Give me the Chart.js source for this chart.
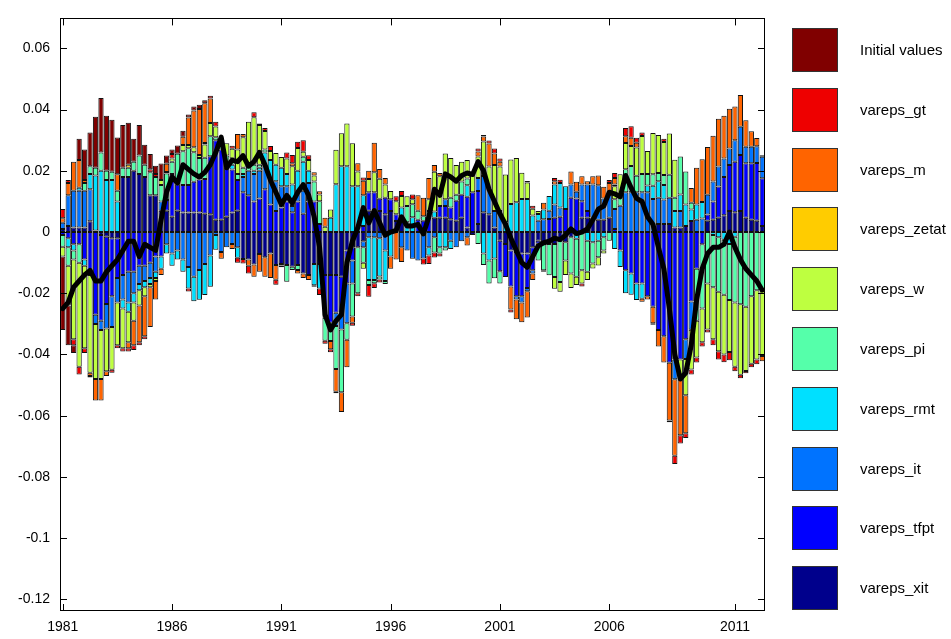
<!DOCTYPE html>
<html lang="en">
<head>
<meta charset="UTF-8">
<title>Shock decomposition</title>
<style>
  body { margin: 0; background: #fff; }
  #wrap { position: relative; width: 951px; height: 639px; }
  #chart { position: absolute; left: 0; top: 0; }
  .legend { position: absolute; left: 792px; top: 28px; font: 15px 'Liberation Sans', Arial, sans-serif; color: #000; }
  .item { position: absolute; left: 0; width: 159px; height: 43px; }
  .box { position: absolute; left: 0; top: 0; width: 44px; height: 42px; border: 1px solid #333; }
  .lbl { position: absolute; left: 68px; top: 0; line-height: 43px; white-space: nowrap; }
</style>
<script src="https://cdn.jsdelivr.net/npm/chart.js"></script>
</head>
<body>
<div id="wrap">
  <canvas id="chart" width="951" height="639"></canvas>
  <div class="legend" id="legend"></div>
</div>
<script>
// contributions, in units of 0.001, one value per quarter from 1981Q1
const initialValues = [
  -24, -13, -2.5, 7, 10, 11, 16.7, 17.8, 18, 17,
  12, 14, 13.7, 7.5, 10, 6.5, 5, 2.7, 5.4, 2.7,
  1.5, 2.7, 2, 1, 1.3, 1.4, 1, 0, 0, 0,
  0, 0, 0, 0, 0, 0, 0, 0, 0, 0,
  0, 0, 0, 0, 0, 0, 0, 0, 0, 0,
  0, 0, 0, 0, 0, 0, 0, 0, 0, 0,
  0, 0, 0, 0, 0, 0, 0, 0, 0, 0,
  0, 0, 0, 0, 0, 0, 0, 0, 0, 0,
  0, 0, 0, 0, 0, 0, 0, 0, 0, 0,
  0, 0, 0, 0, 0, 0, 0, 0, 0, 0,
  0, 0, 0, 0, 0, 0, 0, 0, 0, 0,
  0, 0, 0, 0, 0, 0, 0, 0, 0, 0,
  0, 0, 0, 0, 0, 0, 0, 0, 0
];
const varepsGt = [
  3, 1, -2, -2.5, -1.5, -0.5, 0, 0, 0, -1,
  -1, -1, -1, -1.5, -1, -1, 1, 1, 0, 0,
  1.5, 0, 0, -1, 0, 0, 0, 0.9, 1.5, 1,
  0, 1, -1.6, -1.5, -2.5, 1.6, 0.5, 1, 1.6, -1.6,
  -0.6, 2, 2.7, 2, 3.8, 1.6, -0.5, -2.2, -1, -1,
  -0.5, 0, 0, -1, -1, 1, -3.8, -1.6, -1, 0,
  0, 1.6, 1.6, 0, 1.6, 0, -2, -2.7, -1.6, -1,
  0, 0, 0, 0, 0, 0, 1, 0.5, 1, 1.6,
  1, 0, -1, 0, 0, 0.5, 1, 0, -0.5, 0,
  1.1, 1.1, 0, 0, 0, -1, 0, 0, 0, 0,
  1, 1.6, 0, 2.7, 3.8, 1.6, 1.1, 0, -0.5, 0,
  1.1, -0.5, -2.7, -2.7, -1.6, -1.6, -1.6, -1.4, -1, -2,
  -2.7, -2.5, -2.7, -1.5, -1.2, -0.7, -1.2, -1.6, 0.5
];
const varepsM = [
  1.5, 4, 9.5, 9, 1, -1, -7, -7, -1.5, 0,
  5.4, 0, -2, -8, -12, -13, -13, -6, -2, 2.7,
  0, 0, 2.7, 9, 12, 15, 13, 8, 0, -2.2,
  0, -1.6, 5, 1, -2, -4, -5.8, -6.4, -8, -4.8,
  0, 0, 1, -1.1, -1.5, -1.7, 1, 1, 3, -2.7,
  -7.5, -6.5, -9, -2, 2.7, 4.8, 2.7, 9.7, 3.2, 2.2,
  -4, -9, -4.8, 0, 0, 5, 6, 7, 2.2, 1.1,
  0, 0, 0, 0, -2.7, 0, 1.6, 1.6, 7.5, 3.8,
  1.6, 0, -7.5, -6.5, -6.5, -8.6, -2.2, 0, 2.2, 0,
  1.1, 0, 0, 4.3, 3.2, 2.7, 1.1, 2.7, 3.2, 3.8,
  3.8, 2.2, 0, 2.2, 2.7, 1.6, -1, -1, -5.4, -5.4,
  -8.6, -18.9, -25, -19.4, -12.4, 4.8, 12, 14, 15.6, 15,
  15.6, 14, 13, 11, 10.4, 8.6, 5, 2.7, -1.7
];
const varepsZetat = [
  0, 0, 0, 0, 0, 0, 0, 0, 0, 0,
  0, 0, 1, 0, 0, 0, 0, 0, 0, 0.5,
  0, 0, 0, 0, 0, 0, 0.5, 0, 0, 0,
  0, 0, 0, 0, 0, 0, 0, 0, 0, 0,
  0, 0, 0, 0, 0, 0, 0, 0, 0, 0,
  0, 0, 0, 0, 0, 0, 0, 0, 0, 0,
  0, 0, 0, 0, 0, 0, 0, 0, 0, 0,
  0, 0, 0, 0, 0, 0, 0, 0, 0, 0,
  0, 0, 0, 0, 0, 0, 0, 0, 0, 0,
  0, 0, 0, 0, 0, 0, 0, 0, 0, 0,
  0, 0.5, 0, 0, 0, 0, 0, 0, 0, 0,
  0, 0, 0, 0, 0, 0, 0, 0, 0, 0,
  0, 0, 0, 0, 0, 0, 0, 0, 0
];
const varepsW = [
  -3.2, -13, -26, -34, -27, -32, -18, -16, -14, -14,
  -14, -13, -10, -6, -5, -3, -1, -1, 1.6, 0,
  1, 0, 2, 1, 1.6, 1, 4.3, 4.3, 3.5, 1,
  4, 3.2, 8, 10, 14, 15.5, 13, 6, 3, 3.8,
  3.5, 5, 6, 7.5, 1.6, 3.5, 2, 2.2, 1.7, 2.7,
  11.3, 10.8, 14, 14, 4.8, -2, 4.3, 6.5, 6.5, 4.3,
  2.7, 4.3, 3.8, 3.2, 1.6, 0, 0, 3.8, 13, 9.7,
  15, 13, 9.7, 6.5, 6, 6.5, 7, 11.3, 7, 15,
  14.5, 15.6, 14.5, 14.5, 8.6, 5.4, 2.2, 1, 0, 0,
  -3.8, -3.2, -4.7, -4.8, -2.7, -4.3, -2.7, -1.6, -2.7, -1,
  0, 4.3, 6.5, 8.6, 6.5, 9.2, 12.4, 7.5, 13.5, 12.4,
  10.8, 13.5, 12.4, -5.4, -11.8, -13, -12, -11, -15, -17,
  -19.4, -19.5, -17, -21, -23, -21, -22, -22.6, -21.5
];
const varepsPi = [
  -3.8, -6, -3, -6, 2.5, 2.5, 2.5, 6, 3, 2.7,
  3.5, 3, 3, 3, 6, 4, 7.5, 6, 5.4, 8.6,
  4, 10, 11, 12, 9.7, 7, 7, 6.5, 1, 1,
  2, 2, 2, 2, 2, 2, 1, 1, 0, 0,
  -0.5, -5.4, -1.1, -1.6, 1.6, 0, 6.5, 7.5, -7.5, -6,
  -14, -20.5, -5.4, -10.8, -15, -5, -1.6, -1, -1, -1,
  0, 0, 0, 5.3, 4.3, 3, 1.5, 2.2, -5, -2,
  -1, 3.2, 2, 4.3, 2.2, 0, -3.9, -3.8, -7.5, -6.5,
  -4, 0, 0, 0, 0, 0, 0, -5.5, -8.6, -10.2,
  -10.8, -13.5, -6, -11.8, -12.4, -12.5, -10.2, -7, -5.4, -4.3,
  -2.8, 3.2, 3.8, 7.5, 8.6, 5.4, 6, 3.8, 3.8, 2.7,
  3.2, 7.5, 4.3, 12.4, 10.8, 2.2, -17, -21, -16.8, -17,
  -17.8, -18, -18.3, -21.5, -23.6, -24.4, -21, -19, -19
];
const varepsRmt = [
  0, -3, -2, 1, -2, 5, 18, 20, 17, 17,
  10, -3, -3, -3, -2, -2, -2, -2, -4, -3,
  -4, -3, -4, -7, -8, -9.7, -10.2, -10.2, -4.8, 0,
  2, 1.6, -3.4, 1, 0, 1, 1, 4, 6.5, 5.4,
  6, 4, 7, 7, 9.5, 4, -7, -8, 0, 4.7,
  15.6, 21.5, 21.5, 15, 15, 10, -14, -14, -12.5, -10,
  -8, 0, 3.2, 3.2, 4.8, 0, 0, -2.7, 2, -5,
  -5, -2.7, 0, 0, 3.8, 0, 0, -7, -9.3, -8.6,
  0, 3.2, 9.2, 9.7, 10.8, 10.8, 5.4, 2.2, 3.2, 4.8,
  6.5, 8, 7.5, 0, -2.2, 0, -2.8, -3.3, -2.8, -1.7,
  0, -5.5, -5.4, -7.5, -7, -5.4, -5, 2.2, 4.3, 5.4,
  4.8, 0, 5.4, 5.4, 7, 3.8, 5, 5.4, 0, -1,
  -1.7, -2.5, -3.9, -1.5, 0, 0, 0, 0, 0
];
const varepsIt = [
  2, 10, 12, 12, 12, 10.5, -3, -3, -8, -10,
  -8, -8, -10, -7, -6, -5, -5, -5, 3, -4,
  -7, -6, -9, -11.4, -14.6, -12.4, -10.4, -7.7, -1, -6.5,
  -5, -3.9, -5, 5, 8, 9, 9, 8, 8, 9.7,
  7, 5, 2, 3, 7.5, 6, 0, 0, 0, 0,
  -4.3, -5.4, -13, -7.5, 0, -2, -1.7, -1.7, -2, -6,
  0, 0, -5, -6, -8.7, -9.3, -8.6, -5, -1.7, 0,
  2.2, -2.8, -5, -3, -1.7, 0, 4.3, 11.8, 8.6, 5.4,
  6.9, 0, 0, -1, -2, -1, -1, 3.7, 4.2, 2.7,
  4.3, 3, 0, 4.3, 2.2, 5.4, 8.6, 10.8, 11.3, 7,
  7.5, 6.5, 8.6, 13, 13, 13, 13, 13, 10.8, 8.6,
  8, 8.6, -6.5, 5.4, -6.5, -9.2, 4, 4.4, 6.5, 6.5,
  6.5, 6, 5.4, 7, 9.2, 5.4, 5.4, 5.4, 7
];
const varepsTfpt = [
  -1, -2, -4, -4, -9, -14, -27, -28, -22, -19,
  -13, -14, -13, -13, -11, -11, -10, -8, -8, 3.5,
  14, 8.6, 9, 9, 10, 10.8, 11.3, 19, 26, 23,
  16, 14, 10, 13, 12, 10, 11, 14, 9, 6.9,
  8, 10, 6.5, 10, 6, 10, 10, 2.6, -14, -15.6,
  -12.4, -11.8, -10.8, -4.3, 0, 2, 6, 6, 4, 5.4,
  3.8, 2.2, 0, 0, 0, 4, 3.7, 4.7, 0, 3.8,
  3.8, 3.8, 6.5, 7.5, 10, 13, 10.8, 0, 0, 0,
  -10, -10.8, -11.8, -14.5, -14, -11.3, -7.5, -1, 0, 4.3,
  4.7, 5, 7.5, 11.2, 11, 5.4, 2.2, 0, 0, 0,
  0, 1, -6, -12.5, -13.5, -16.8, -16.8, -21, -24.4, -32,
  -34, -42.7, -41.6, -41.6, -35, -22.7, -12, -4, 2, 6,
  10.2, 12.5, 15, 16.5, 18.3, 17.8, 18.5, 18.9, 15.6
];
const varepsXit = [
  1, 2, 1.5, 1.5, 1.5, 3.5, 0.5, -1, -1.5, -2,
  -2, 18, 18, 20, 19, 18, 12, 12, 7, 7,
  5, 7, 6.4, 6.4, 6.4, 6.4, 6, 5.8, 4, 4,
  5, 6.4, 7, -8.8, -9, -10.6, -7.2, -8.2, -7, -10.8,
  -10.4, -10.8, -11.3, -10.8, -13.5, -14, -10.4, -10.4, -14, -14,
  -14, -14.6, -6, -5, -5, -3, 7, 7, 6.9, 5.8,
  6.9, 3.6, 4.8, 0, 0, 0, 0, 0, 4.7, 4.7,
  4.7, 4.2, 3.7, 4.7, 1.5, -1, 2.6, 6.5, 5.8, 1.5,
  -2.8, -3.9, -6, -6.5, -7, -7, -5, -2.8, -3.9, -3.9,
  -3.9, -2.8, -3.3, -1.7, 0, 4.7, 4.7, 4.7, 4, 4,
  4.7, 0, 0, 0, 0, 0, 0, 0, 0, 2.6,
  2.6, 2.6, 1.5, 1.5, 2, 3.6, 0, 0, 3.7, 4,
  4.7, 5.5, 6.9, 6.5, 6.9, 4.7, 4, 3.7, 2
];
// smoothed variable (black line), same units
const smoothedVar = [
  -25, -23, -18, -16, -14, -12.5, -16, -16, -13, -11,
  -9, -6, -3, -3, -8, -4, -5, -6, 4, 13,
  18, 16, 22, 20.5, 19, 18, 19.5, 22, 26, 31,
  21, 23.5, 23, 25, 21.5, 23, 26, 22, 17, 13,
  9, 12, 9.5, 13, 15.5, 12, 5, -5, -27, -32,
  -29, -27, -10, -3, 1.5, 8, 3, 7, 3, -1,
  0, 0.5, 5, 2, 2, 2.5, -0.6, 5, 14, 12,
  19, 18, 16.6, 18.5, 19.3, 18.8, 23, 20, 14, 10,
  6, 2.6, -2, -6, -10, -11.5, -8, -4.5, -3.5, -3,
  -2, -2.5, -1, 1, -0.5, 0, 1, 4, 7.5, 8.5,
  13, 12.5, 11.5, 18.5, 14.5, 11, 10, 5, 2.5, -5,
  -12, -25, -40, -48, -46, -37, -22, -12, -7, -5,
  -5, -4, 0, -5, -9, -12, -14, -16, -19
];

const START_YEAR = 1981;
const TICK_INDEX = [0, 20, 40, 60, 80, 100, 123];
const TICK_LABELS = ['1981', '1986', '1991', '1996', '2001', '2006', '2011'];
const Y_MIN = -0.1238;
const Y_MAX = 0.0698;
const Y_STEP = 0.02;

// legend order, top to bottom; stacking goes the other way (xit nearest zero)
const SERIES = [
  ['Initial values', initialValues, '#800000'],
  ['vareps_gt', varepsGt, '#EE0000'],
  ['vareps_m', varepsM, '#FF6400'],
  ['vareps_zetat', varepsZetat, '#FFCC00'],
  ['vareps_w', varepsW, '#BEFF40'],
  ['vareps_pi', varepsPi, '#55FFAA'],
  ['vareps_rmt', varepsRmt, '#00E0FF'],
  ['vareps_it', varepsIt, '#0073FF'],
  ['vareps_tfpt', varepsTfpt, '#0000FF'],
  ['vareps_xit', varepsXit, '#00008C']
];

const labels = [];
for (let i = 0; i < smoothedVar.length; i++) {
  labels.push((START_YEAR + Math.floor(i / 4)) + 'Q' + (i % 4 + 1));
}
const toUnits = v => v / 1000;

const datasets = [{
  type: 'line',
  label: 'smoothed',
  data: smoothedVar.map(toUnits),
  borderColor: '#000',
  borderWidth: 5,
  borderJoinStyle: 'round',
  borderCapStyle: 'round',
  pointRadius: 0,
  tension: 0,
  stack: 'line',
  order: 0
}];
SERIES.slice().reverse().forEach(([name, values, color]) => {
  datasets.push({
    type: 'bar',
    label: name,
    data: values.map(toUnits),
    backgroundColor: color,
    borderColor: '#111',
    borderWidth: 1,
    borderSkipped: false,
    barPercentage: 0.96,
    categoryPercentage: 1.0,
    stack: 'bars',
    order: 1
  });
});

// legend on the right
const legend = document.getElementById('legend');
SERIES.forEach(([name, , color], k) => {
  const item = document.createElement('div');
  item.className = 'item';
  item.style.top = (k * 59.8) + 'px';
  item.innerHTML = '<div class="box" style="background:' + color + '"></div><div class="lbl">' + name + '</div>';
  legend.appendChild(item);
});

// box around the axes and inward tick marks, matlab style
const frameTicks = {
  id: 'frameTicks',
  afterDatasetsDraw(chart) {
    const { ctx, chartArea: a, scales: { x, y } } = chart;
    ctx.save();
    ctx.strokeStyle = '#000';
    ctx.lineWidth = 1;
    ctx.beginPath();
    y.ticks.forEach(t => {
      const py = Math.round(y.getPixelForValue(t.value)) + 0.5;
      ctx.moveTo(a.left, py); ctx.lineTo(a.left + 7, py);
      ctx.moveTo(a.right, py); ctx.lineTo(a.right - 7, py);
    });
    TICK_INDEX.forEach(i => {
      const px = Math.round(x.getPixelForValue(i)) + 0.5;
      ctx.moveTo(px, a.bottom); ctx.lineTo(px, a.bottom - 7);
      ctx.moveTo(px, a.top); ctx.lineTo(px, a.top + 7);
    });
    ctx.stroke();
    ctx.strokeRect(Math.round(a.left) + 0.5, Math.round(a.top) + 0.5,
                   Math.round(a.width) - 1, Math.round(a.height) - 1);
    ctx.restore();
  }
};

const axisFont = { family: "'Liberation Sans', Arial, sans-serif", size: 14 };

new Chart(document.getElementById('chart').getContext('2d'), {
  data: { labels: labels, datasets: datasets },
  options: {
    responsive: false,
    animation: false,
    devicePixelRatio: 1,
    layout: { padding: { left: 0, top: 12, right: 186, bottom: 0 } },
    plugins: { legend: { display: false }, tooltip: { enabled: false } },
    scales: {
      x: {
        type: 'category',
        stacked: true,
        offset: true,
        grid: { display: false, drawTicks: false },
        border: { display: false },
        afterFit: s => { s.height = 28; },
        ticks: {
          autoSkip: false,
          maxRotation: 0,
          minRotation: 0,
          padding: 8,
          color: '#000',
          font: axisFont,
          callback: (v, i) => {
            const k = TICK_INDEX.indexOf(i);
            return k >= 0 ? TICK_LABELS[k] : '';
          }
        }
      },
      y: {
        stacked: true,
        min: Y_MIN,
        max: Y_MAX,
        grid: { display: false, drawTicks: false },
        border: { display: false },
        afterFit: s => { s.width = 60; },
        ticks: {
          stepSize: Y_STEP,
          includeBounds: false,
          padding: 10,
          color: '#000',
          font: axisFont,
          callback: v => String(Math.round(v * 100) / 100)
        }
      }
    }
  },
  plugins: [frameTicks]
});
</script>
</body>
</html>
